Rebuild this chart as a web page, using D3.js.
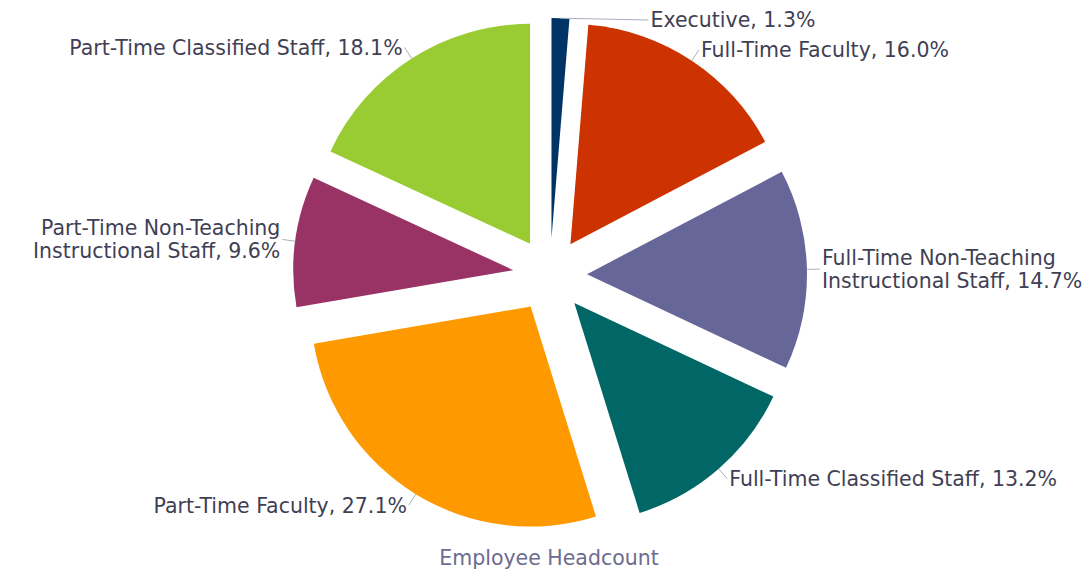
<!DOCTYPE html>
<html>
<head>
<meta charset="utf-8">
<script src="https://cdn.jsdelivr.net/npm/d3@7"></script>
<style>
  body { margin: 0; background: #fff; }
  text { font-family: "DejaVu Sans", sans-serif; }
</style>
</head>
<body>
<div id="chart"></div>
<script>
// Data
const categories = [
  "Executive",
  "Full-Time Faculty",
  "Full-Time Non-Teaching Instructional Staff",
  "Full-Time Classified Staff",
  "Part-Time Faculty",
  "Part-Time Non-Teaching Instructional Staff",
  "Part-Time Classified Staff",
];
const shares = [1.3, 16.0, 14.7, 13.2, 27.1, 9.6, 18.1];
const colors = ["#003366", "#cc3300", "#666699", "#006666", "#ff9900", "#993366", "#99cc33"];
const chartTitle = "Employee Headcount";

// Layout
const WIDTH = 1090;
const HEIGHT = 572;
const cx = 550;
const cy = 275;
const radius = 220;
const explode = 37; // every slice pulled out from the centre
const labelGap = 13;
const topLimit = 20; // labels can't go higher than this
const clampedLeader = 88; // long horizontal leader for a label pushed down at the top
const lineHeight = 23;

const svg = d3
  .select("#chart")
  .append("svg")
  .attr("width", WIDTH)
  .attr("height", HEIGHT);

const pie = d3.pie().sort(null).value((d) => d)(shares);
const arc = d3.arc().innerRadius(0).outerRadius(radius);

const rows = pie.map((d, i) => {
  const a = (d.startAngle + d.endAngle) / 2;
  const sx = Math.sin(a);
  const sy = -Math.cos(a);
  const ox = cx + explode * sx;
  const oy = cy + explode * sy;
  const arcPt = [ox + radius * sx, oy + radius * sy];
  let lab = [ox + (radius + labelGap) * sx, oy + (radius + labelGap) * sy];
  if (lab[1] < topLimit) {
    lab = [arcPt[0] + clampedLeader, topLimit];
  }
  return { d, i, ox, oy, arcPt, lab, right: sx >= 0 };
});

// Slices
svg
  .selectAll(".slice")
  .data(rows)
  .enter()
  .append("path")
  .attr("class", "slice")
  .attr("transform", (r) => "translate(" + r.ox + "," + r.oy + ")")
  .attr("d", (r) => arc(r.d))
  .style("fill", (r) => colors[r.i]);

// Connectors
svg
  .selectAll(".connector")
  .data(rows)
  .enter()
  .append("path")
  .attr("class", "connector")
  .attr("d", (r) => d3.line()([r.arcPt, r.lab]))
  .style("fill", "none")
  .style("stroke", "#a9b0bf")
  .style("stroke-width", 1);

// Labels, wrapped to the room left on their side
const labels = svg
  .selectAll(".label")
  .data(rows)
  .enter()
  .append("text")
  .attr("class", "label")
  .attr("text-anchor", (r) => (r.right ? "start" : "end"))
  .style("font-size", "20.5px")
  .style("fill", "#3f3f55");

labels.each(function (r) {
  const el = d3.select(this);
  const x = r.right ? r.lab[0] + 2 : r.lab[0] - 2;
  const room = r.right ? WIDTH - x - 6 : x - 6;
  const words = (categories[r.i] + ", " + shares[r.i].toFixed(1) + "%").split(" ");
  const lines = [];
  let line = [];
  const probe = el.append("tspan");
  words.forEach((w) => {
    const test = line.concat(w).join(" ");
    probe.text(test);
    if (line.length && probe.node().getComputedTextLength() > room) {
      lines.push(line.join(" "));
      line = [w];
    } else {
      line.push(w);
    }
  });
  lines.push(line.join(" "));
  probe.remove();

  lines.forEach((t, k) => {
    el.append("tspan")
      .attr("x", x)
      .attr("y", r.lab[1] + (k - (lines.length - 1) / 2) * lineHeight)
      .attr("dy", "0.36em")
      .text(t);
  });
});

// Title under the pie
svg
  .append("text")
  .attr("x", cx - 1)
  .attr("y", 565)
  .attr("text-anchor", "middle")
  .style("font-size", "20.5px")
  .style("fill", "#6c6c8e")
  .text(chartTitle);
</script>
</body>
</html>
